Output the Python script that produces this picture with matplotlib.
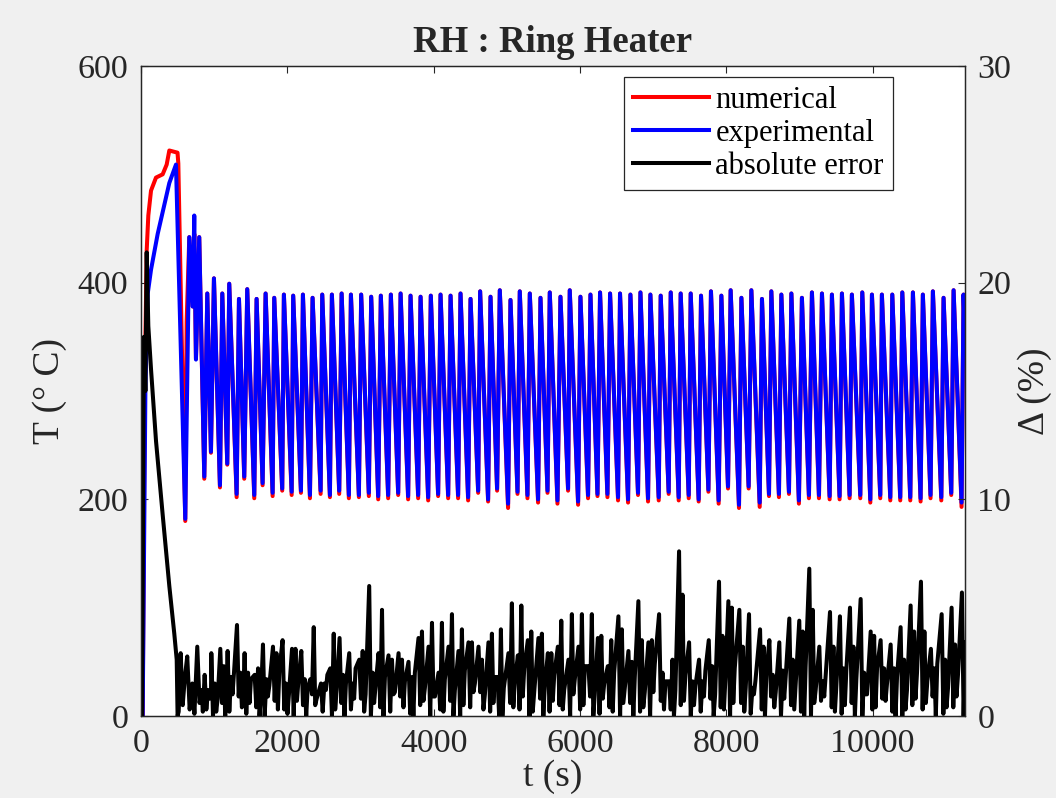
import numpy as np
import matplotlib
matplotlib.use("Agg")
import matplotlib.pyplot as plt
from matplotlib.lines import Line2D

plt.rcParams['font.family'] = ['Liberation Serif', 'DejaVu Serif']

# ---------------- data ----------------
# start-up transient (t in s, T in deg C)
init_t_exp = [23, 60, 92, 137, 228, 387, 478, 605, 660, 706, 728, 751, 796]
init_T_exp = [0, 300, 390, 412, 445, 492, 509, 182, 442, 378, 462, 329, 442]
init_t_num = [23, 50, 78, 100, 137, 205, 296, 351, 387, 499, 510, 605, 624, 660, 706, 728, 751, 796]
init_T_num = [0, 300, 430, 462, 485, 497, 500, 509, 522, 520, 510, 180, 364, 442, 378, 445, 330, 442]

# cycle troughs
trough_t = [865, 956, 1079, 1179, 1307, 1411, 1548, 1662, 1799, 1930,
            2059, 2186, 2309, 2455, 2582, 2709, 2841, 2978, 3114, 3242,
            3378, 3515, 3651, 3788, 3925, 4061, 4198, 4334, 4471, 4608,
            4744, 4867, 5017, 5146, 5282, 5427, 5556, 5692, 5837, 5974,
            6110, 6239, 6375, 6520, 6657, 6793, 6930, 7076, 7212, 7349,
            7486, 7622, 7755, 7895, 8023, 8173, 8305, 8456, 8583, 8719,
            8856, 8992, 9129, 9266, 9412, 9548, 9685, 9831, 9968, 10104,
            10241, 10377, 10514, 10655, 10791, 10938, 11074, 11215]
trough_T_exp = [221, 244, 213, 233, 205, 221, 204, 215, 206, 210,
                207, 208, 204, 208, 204, 208, 204, 204, 206, 203,
                204, 206, 203, 204, 202, 205, 204, 204, 202, 208,
                200, 210, 196, 207, 204, 200, 208, 199, 210, 198,
                204, 205, 205, 202, 200, 206, 201, 202, 207, 202,
                204, 200, 209, 199, 212, 195, 212, 197, 205, 205,
                207, 199, 204, 204, 203, 203, 204, 204, 200, 204,
                202, 202, 202, 201, 204, 202, 206, 197]
trough_T_num = [219, 243, 211, 232, 202, 219, 201, 213, 203, 208,
                204, 206, 201, 205, 202, 205, 201, 202, 203, 200,
                201, 204, 200, 201, 199, 203, 201, 201, 199, 206,
                198, 208, 192, 205, 201, 197, 206, 196, 208, 195,
                201, 203, 202, 199, 197, 204, 198, 199, 205, 199,
                201, 198, 207, 196, 210, 192, 210, 193, 203, 202,
                205, 196, 201, 201, 200, 200, 201, 201, 197, 201,
                199, 199, 199, 198, 201, 199, 204, 193]

# cycle peaks
peak_t = [906, 997, 1111, 1206, 1339, 1452, 1580, 1703, 1821, 1953,
          2080, 2213, 2345, 2477, 2609, 2742, 2869, 3009, 3146, 3278,
          3415, 3548, 3684, 3821, 3961, 4094, 4231, 4367, 4504, 4635,
          4777, 4904, 5050, 5177, 5314, 5460, 5587, 5733, 5860, 6006,
          6143, 6274, 6411, 6547, 6689, 6826, 6962, 7103, 7240, 7376,
          7513, 7654, 7790, 7932, 8059, 8206, 8342, 8487, 8615, 8752,
          8889, 9033, 9170, 9307, 9443, 9580, 9716, 9858, 9990, 10126,
          10268, 10405, 10550, 10686, 10823, 10969, 11106, 11242]
peak_T = [390, 404, 390, 399, 385, 394, 385, 390, 386, 389,
          388, 389, 386, 389, 389, 390, 389, 389, 387, 388,
          389, 390, 388, 387, 388, 389, 388, 390, 385, 392,
          387, 393, 384, 392, 390, 386, 391, 387, 393, 387,
          389, 391, 390, 390, 389, 391, 389, 388, 391, 390,
          390, 388, 392, 388, 393, 386, 393, 385, 392, 389,
          390, 386, 391, 390, 389, 390, 389, 391, 389, 389,
          389, 391, 391, 389, 392, 386, 393, 389]

end_t = 11262
end_T_exp = 352
end_T_num = 345

# absolute error (%) : start-up part
init_err_t = [15, 40, 60, 78, 100, 137, 205, 296, 387, 455, 488, 500,
              515, 542, 570, 600, 632, 665, 701, 730, 769, 800, 829, 845]
init_err = [0, 17.5, 15, 21.4, 18, 16, 12.7, 9.3, 6.0, 3.8, 2.6, 0,
            0.2, 2.9, 0.5, 1.8, 2.75, 0.3, 1.5, 0.1, 3.2, 0.6, 1.2, 0.2]
# absolute error per cycle: spike at the rise, low, second spike, low, small bump
errA = [1.9, 2.9, 3.1, 3.0, 4.2, 2.9, 1.9, 3.3, 3.2, 3.5,
        3.1, 3.0, 1.7, 1.5, 2.2, 3.6, 2.9, 2.6, 6.0, 2.9,
        2.8, 2.9, 2.5, 3.6, 3.2, 2.0, 3.2, 3.0, 3.4, 3.2,
        3.4, 1.8, 2.9, 2.8, 3.5, 3.6, 2.9, 3.2, 2.6, 3.2,
        2.3, 3.6, 2.3, 4.6, 3.0, 5.3, 3.4, 4.7, 1.6, 7.6,
        3.4, 2.6, 3.5, 6.2, 5.3, 4.9, 4.7, 4.0, 3.5, 3.4,
        4.5, 4.4, 6.8, 3.2, 4.8, 4.6, 5.0, 5.4, 3.9, 3.5,
        3.3, 4.1, 5.1, 6.2, 3.1, 4.7, 5.0, 5.7]
errL1 = [0.3, 0.0, 0.6, 0.2, 0.9, 0.1, 0.4, 0.0, 0.7, 0.3,
         0.0, 0.5, 1.0, 0.2, 0.0, 0.6, 0.3, 0.8, 0.0, 0.4,
         0.2, 0.9, 0.1, 0.5, 0.0, 0.3, 0.7, 0.0, 0.4, 1.1,
         0.2, 0.0, 0.6, 0.3, 0.0, 0.8, 0.2, 0.5, 0.0, 0.3,
         0.9, 0.1, 0.4, 0.0, 0.6, 0.2, 0.0, 0.7, 0.3, 0.5,
         0.0, 0.2, 0.8, 0.4, 0.0, 0.6, 0.1, 0.3, 0.9, 0.0,
         0.5, 0.2, 0.0, 0.7, 0.4, 0.1, 0.6, 0.0, 0.3, 0.8,
         0.2, 0.0, 0.5, 0.3, 0.9, 0.1, 0.4, 0.0]
errB = [1.2, 1.5, 2.3, 1.8, 2.0, 2.0, 2.2, 1.7, 2.9, 1.5,
        3.1, 1.7, 4.1, 1.5, 3.8, 1.9, 1.5, 3.0, 2.0, 4.9,
        2.6, 2.6, 1.8, 3.9, 4.3, 4.3, 4.7, 4.0, 3.4, 2.6,
        3.8, 4.0, 5.2, 5.1, 3.9, 3.8, 2.9, 4.4, 4.7, 4.7,
        4.7, 3.7, 3.5, 4.0, 2.5, 3.5, 3.5, 2.0, 2.6, 5.6,
        1.6, 1.6, 2.3, 3.7, 5.0, 3.2, 1.3, 3.2, 1.9, 2.1,
        2.6, 3.9, 4.9, 1.6, 3.2, 2.2, 3.2, 2.0, 3.7, 2.2,
        2.2, 2.6, 3.9, 3.9, 2.2, 2.6, 3.3, 3.4]
errL2 = [0.8, 0.2, 0.0, 1.0, 0.4, 0.6, 0.0, 0.9, 0.3, 0.1,
         0.7, 0.0, 0.5, 1.2, 0.3, 0.0, 0.8, 0.2, 0.6, 0.0,
         1.0, 0.4, 0.0, 0.7, 0.9, 0.2, 0.0, 0.5, 1.1, 0.3,
         0.6, 0.0, 0.4, 0.9, 0.2, 0.0, 0.7, 0.3, 1.0, 0.5,
         0.0, 0.8, 0.2, 0.6, 0.0, 0.4, 1.1, 0.3, 0.0, 0.7,
         0.5, 0.9, 0.0, 0.3, 0.6, 0.2, 1.0, 0.0, 0.4, 0.8,
         0.3, 0.0, 0.6, 0.9, 0.2, 0.5, 0.0, 1.0, 0.4, 0.7,
         0.0, 0.3, 0.8, 0.6, 0.0, 0.4, 0.9, 0.2]
errC = [1.2, 0.8, 1.5, 2.0, 1.1, 1.7, 0.9, 1.4, 2.1, 1.0,
        1.6, 1.3, 0.8, 1.9, 1.2, 1.5, 2.2, 1.0, 1.4, 1.8,
        1.1, 1.6, 2.0, 1.3, 0.9, 1.7, 1.2, 2.1, 1.5, 1.0,
        1.8, 1.3, 1.6, 2.2, 1.1, 1.4, 1.9, 1.2, 1.7, 2.3,
        1.0, 1.5, 2.0, 1.3, 1.8, 1.1, 2.4, 1.6, 1.2, 1.9,
        1.4, 2.1, 1.0, 1.7, 2.2, 1.3, 1.6, 2.0, 1.1, 1.8,
        1.5, 2.3, 1.2, 1.9, 1.4, 2.1, 1.7, 1.0, 2.2, 1.5,
        1.8, 1.2, 2.0, 1.6, 2.4, 1.3, 1.9, 1.5]
end_err = 3.4
err_offsets = [5, 28, 52, 72, 92]   # seconds after each trough

# ---------------- build series ----------------
def interleave(a, b):
    out = []
    for x, y in zip(a, b):
        out += [x, y]
    return out

t_exp = init_t_exp + interleave(trough_t, peak_t) + [end_t]
T_exp = init_T_exp + interleave(trough_T_exp, peak_T) + [end_T_exp]
t_num = init_t_num + interleave(trough_t, peak_t) + [end_t]
T_num = init_T_num + interleave(trough_T_num, peak_T) + [end_T_num]

err_t = list(init_err_t)
err_v = list(init_err)
for k, tt in enumerate(trough_t):
    for off, arr in zip(err_offsets, (errA, errL1, errB, errL2, errC)):
        err_t.append(tt + off)
        err_v.append(arr[k])
err_t.append(end_t)
err_v.append(end_err)

# ---------------- plot ----------------
W, H = 1056, 798
fig = plt.figure(figsize=(W / 100, H / 100), dpi=100, facecolor='#f0f0f0')
ax = fig.add_axes([141 / W, 1 - 716 / H, (965 - 141) / W, (716 - 66) / H])
ax.set_facecolor('white')
ax2 = ax.twinx()

lw = 2.9
edge = '#262626'
ax.plot(t_num, T_num, color='#ff0000', lw=lw, solid_joinstyle='round', solid_capstyle='round')
ax.plot(t_exp, T_exp, color='#0000ff', lw=lw, solid_joinstyle='round', solid_capstyle='round')
ax2.plot(err_t, err_v, color='black', lw=lw, solid_joinstyle='round', solid_capstyle='round')

ax.set_xlim(0, end_t)
ax.set_ylim(0, 600)
ax2.set_ylim(0, 30)
ax.set_xticks([0, 2000, 4000, 6000, 8000, 10000])
ax.set_yticks([0, 200, 400, 600])
ax2.set_yticks([0, 10, 20, 30])

fs = 24.5
ax.tick_params(axis='both', direction='in', length=5, width=0.8, labelsize=fs,
               colors=edge, top=True, pad=9)
ax.tick_params(axis='y', right=False)
ax2.tick_params(axis='y', direction='in', length=5, width=0.8, labelsize=fs,
                colors=edge, pad=9)
for a in (ax, ax2):
    for s in a.spines.values():
        s.set_color(edge)
        s.set_linewidth(0.9)

ax.set_xlabel('t (s)', fontsize=27, color=edge, labelpad=0)
ax.set_ylabel('T (° C)', fontsize=27, color=edge, labelpad=8)
ax2.set_ylabel('Δ (%)', fontsize=27, color=edge, labelpad=4)
ax.set_title('RH : Ring Heater', fontsize=26.5, fontweight='bold', color=edge, pad=10)

handles = [Line2D([], [], color='#ff0000', lw=lw),
           Line2D([], [], color='#0000ff', lw=lw),
           Line2D([], [], color='black', lw=lw)]
leg = ax2.legend(handles, ['numerical', 'experimental', 'absolute error'],
                 loc='upper right', bbox_to_anchor=(893 / W, 1 - 77 / H),
                 bbox_transform=fig.transFigure, fontsize=22, frameon=True,
                 fancybox=False, framealpha=1, edgecolor=edge, handlelength=2.5,
                 handletextpad=0.2, labelspacing=0.12, borderpad=0.3, borderaxespad=0)
leg.get_frame().set_linewidth(0.9)

fig.savefig('out.png', dpi=100, facecolor=fig.get_facecolor())
